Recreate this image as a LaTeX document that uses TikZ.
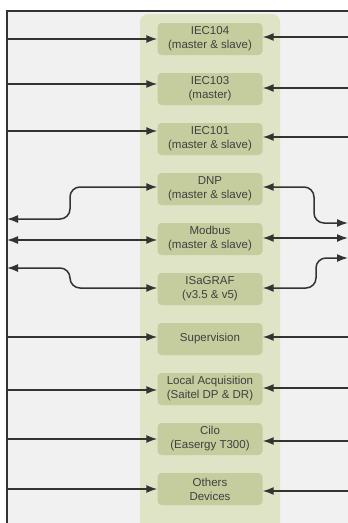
\documentclass[tikz,border=0pt]{standalone}
\usepackage{fontspec}
\setmainfont{Liberation Sans}
\usetikzlibrary{arrows.meta}
\definecolor{bgcol}{HTML}{F1F1F1}
\definecolor{colcol}{HTML}{DFE4C7}
\definecolor{boxcol}{HTML}{C5CC9D}
\definecolor{linecol}{HTML}{333333}
\definecolor{txtcol}{HTML}{404040}
\tikzset{
  protobox/.style={fill=boxcol, rounded corners=4pt, minimum width=105pt, minimum height=32pt,
    inner sep=0pt, align=center, text=txtcol, font=\fontsize{11.5}{14}\selectfont},
  tipst/.style={},
  arr/.style={draw=linecol, line width=1.5pt, -{Latex[length=11pt,width=8pt]}},
  arrb/.style={draw=linecol, line width=1.5pt, {Latex[length=11pt,width=8pt]}-{Latex[length=11pt,width=8pt]}, rounded corners=10pt},
}
\begin{document}
\begin{tikzpicture}[x=1pt,y=-1pt]
\useasboundingbox (0,0) rectangle (348,523);
\fill[white] (0,0) rectangle (348,523);
\fill[bgcol] (7,11) rectangle (348,523);
\begin{scope}
\clip (0,0) rectangle (348,523);
\fill[colcol, rounded corners=8pt] (140,14) rectangle (280,540);
\end{scope}
\draw[linecol, line width=1.6pt] (7,523) -- (7,11) -- (348,11);

\node[protobox] (b1) at (210,39) {IEC104\\(master \& slave)};
\node[protobox] (b2) at (210,89) {IEC103\\(master)};
\node[protobox] (b3) at (210,139) {IEC101\\(master \& slave)};
\node[protobox] (b4) at (210,189) {DNP\\(master \& slave)};
\node[protobox] (b5) at (210,239) {Modbus\\(master \& slave)};
\node[protobox] (b6) at (210,289) {ISaGRAF\\(v3.5 \& v5)};
\node[protobox] (b7) at (210,339) {Supervision};
\node[protobox] (b8) at (210,389) {Local Acquisition\\(Saitel DP \& DR)};
\node[protobox] (b9) at (210,439) {Cilo\\(Easergy T300)};
\node[protobox] (b10) at (210,489) {Others\\Devices};

% left free ends
\coordinate (l1) at (7,39);
\coordinate (l2) at (7,84);
\coordinate (l3) at (7,131);
\coordinate (l4) at (7,219);
\coordinate (l5) at (7,240);
\coordinate (l6) at (7,268);
\coordinate (l7) at (7,337);
\coordinate (l8) at (7,390);
\coordinate (l9) at (7,439);
\coordinate (l10) at (7,489);
% right free ends
\coordinate (r1) at (348,37);
\coordinate (r2) at (348,88);
\coordinate (r3) at (348,137);
\coordinate (r4) at (348,223);
\coordinate (r5) at (348,238);
\coordinate (r6) at (348,258);
\coordinate (r7) at (348,337);
\coordinate (r8) at (348,388);
\coordinate (r9) at (348,441);
\coordinate (r10) at (348,491);

\foreach \i in {1,2,3,7,8,9,10} {
  \draw[arr] (l\i) -- (l\i -| b\i.west);
  \draw[arr] (r\i) -- (r\i -| b\i.east);
}
% DNP
\draw[arrb] (l4) -- (70,219) -- (70,187) -- (b4.west |- 0,187);
\draw[arrb] (b4.east |- 0,187) -- (314,187) -- (314,223) -- (r4);
% Modbus
\draw[arrb] (l5) -- (l5 -| b5.west);
\draw[arrb] (b5.east |- r5) -- (r5);
% ISaGRAF
\draw[arrb] (l6) -- (70,268) -- (70,288) -- (b6.west |- 0,288);
\draw[arrb] (b6.east |- 0,288) -- (316,288) -- (316,258) -- (r6);
\end{tikzpicture}
\end{document}
